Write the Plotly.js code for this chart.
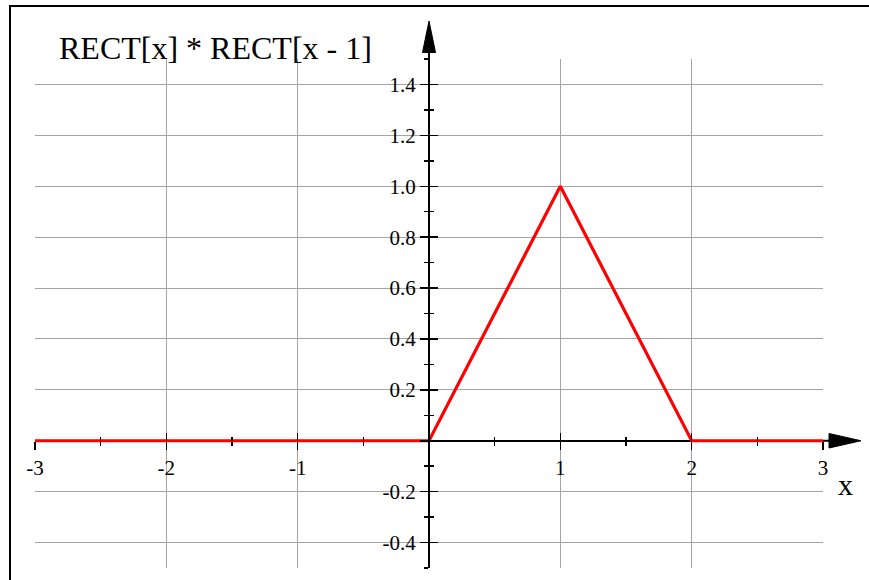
<!DOCTYPE html>
<html>
<head>
<meta charset="utf-8">
<script src="https://cdn.plot.ly/plotly-3.0.1.min.js"></script>
<style>
  html, body { margin: 0; padding: 0; background: #ffffff; }
  #plot { width: 869px; height: 580px; }
</style>
</head>
<body>
<div id="plot"></div>
<script>
// RECT[x] * RECT[x - 1]: triangle function on [0, 2]
const xValues = [-3, 0, 1, 2, 3];
const yValues = [0, 0, 1, 0, 0];

const xTickVals = [-3, -2, -1, 0, 1, 2, 3];
const xTickText = ['-3', '-2', '-1', '', '1', '2', '3'];
const xMinorVals = [-2.5, -1.5, -0.5, 0.5, 1.5, 2.5];

const yTickVals = [-0.4, -0.2, 0, 0.2, 0.4, 0.6, 0.8, 1.0, 1.2, 1.4];
const yTickText = ['-0.4', '-0.2', '', '0.2', '0.4', '0.6', '0.8', '1.0', '1.2', '1.4'];
const yMinorVals = [-0.5, -0.3, -0.1, 0.1, 0.3, 0.5, 0.7, 0.9, 1.1, 1.3, 1.5];

const W = 869, H = 580;
const M = { l: 35, r: 46, t: 59, b: 12 };
const PW = W - M.l - M.r, PH = H - M.t - M.b;
// pixel -> paper coordinates
const px = v => (v - M.l) / PW;
const py = v => 1 - (v - M.t) / PH;

const serif = 'Liberation Serif, Times New Roman, serif';
const gridColor = '#a4a4a4';

const tickFont = { family: serif, size: 21, color: '#000000' };

const axisCommon = {
  showline: true, linecolor: '#000000', linewidth: 2,
  zeroline: false, showgrid: true, gridcolor: gridColor, gridwidth: 1,
  ticks: 'outside', ticklen: 8, tickwidth: 1.5, tickcolor: '#000000',
  tickmode: 'array', tickfont: tickFont, fixedrange: true
};

const data = [
  {
    x: xValues, y: yValues,
    type: 'scatter', mode: 'lines',
    line: { color: '#ff0000', width: 3.2 },
    hoverinfo: 'skip', showlegend: false
  },
  // empty trace that registers the overlay axes (inward half of each tick)
  {
    x: [], y: [], xaxis: 'x2', yaxis: 'y2',
    type: 'scatter', mode: 'lines',
    hoverinfo: 'skip', showlegend: false
  }
];

const layout = {
  width: W, height: H,
  margin: M,
  paper_bgcolor: '#ffffff', plot_bgcolor: '#ffffff',
  showlegend: false,
  title: {
    text: 'RECT[x] * RECT[x - 1]',
    font: { family: serif, size: 32, color: '#000000' },
    xref: 'container', yref: 'container',
    x: 59 / W, xanchor: 'left',
    y: 1 - 48 / H, yanchor: 'middle'
  },
  xaxis: Object.assign({}, axisCommon, {
    range: [-3, 3], anchor: 'free', position: 0.25,
    tickvals: xTickVals, ticktext: xTickText,
    layer: 'below traces',
    minor: { tickmode: 'array', tickvals: xMinorVals, ticks: 'outside', ticklen: 4, tickwidth: 1.5, tickcolor: '#000000', showgrid: false }
  }),
  yaxis: Object.assign({}, axisCommon, {
    range: [-0.5, 1.5], anchor: 'free', position: 0.5,
    tickvals: yTickVals, ticktext: yTickText,
    minor: { tickmode: 'array', tickvals: yMinorVals, ticks: 'outside', ticklen: 4, tickwidth: 1.5, tickcolor: '#000000', showgrid: false }
  }),
  xaxis2: {
    overlaying: 'x', range: [-3, 3], anchor: 'free', position: 0.25,
    showline: false, showgrid: false, zeroline: false, showticklabels: false,
    tickmode: 'array', tickvals: xTickVals,
    ticks: 'inside', ticklen: 8, tickwidth: 1.5, tickcolor: '#000000',
    minor: { tickmode: 'array', tickvals: xMinorVals, ticks: 'inside', ticklen: 4, tickwidth: 1.5, tickcolor: '#000000', showgrid: false },
    fixedrange: true
  },
  yaxis2: {
    overlaying: 'y', range: [-0.5, 1.5], anchor: 'free', position: 0.5,
    showline: false, showgrid: false, zeroline: false, showticklabels: false,
    tickmode: 'array', tickvals: yTickVals,
    ticks: 'inside', ticklen: 8, tickwidth: 1.5, tickcolor: '#000000',
    minor: { tickmode: 'array', tickvals: yMinorVals, ticks: 'inside', ticklen: 4, tickwidth: 1.5, tickcolor: '#000000', showgrid: false },
    fixedrange: true
  },
  annotations: [{
    text: 'x', xref: 'paper', yref: 'paper',
    x: px(845), y: py(484), xanchor: 'center', yanchor: 'middle',
    showarrow: false,
    font: { family: serif, size: 30, color: '#000000' }
  }],
  shapes: [
    // frame
    { type: 'line', xref: 'paper', yref: 'paper', x0: px(10), x1: px(870), y0: py(6), y1: py(6), line: { color: '#000000', width: 2 } },
    { type: 'line', xref: 'paper', yref: 'paper', x0: px(10), x1: px(10), y0: py(5), y1: py(581), line: { color: '#000000', width: 2 } },
    // x axis extension and arrowhead
    { type: 'line', xref: 'paper', yref: 'paper', x0: 1, x1: px(832), y0: 0.25, y1: 0.25, line: { color: '#000000', width: 2 } },
    { type: 'path', xref: 'paper', yref: 'paper',
      path: `M ${px(829)} ${py(433.5)} L ${px(861)} ${py(440.75)} L ${px(829)} ${py(448)} Z`,
      fillcolor: '#000000', line: { color: '#000000', width: 1 } },
    // y axis extension and arrowhead
    { type: 'line', xref: 'paper', yref: 'paper', x0: 0.5, x1: 0.5, y0: 1, y1: py(50), line: { color: '#000000', width: 2 } },
    { type: 'path', xref: 'paper', yref: 'paper',
      path: `M ${px(422.5)} ${py(52.5)} L ${px(429)} ${py(21)} L ${px(435.5)} ${py(52.5)} Z`,
      fillcolor: '#000000', line: { color: '#000000', width: 1 } }
  ]
};

Plotly.newPlot('plot', data, layout, { displayModeBar: false, staticPlot: true });
</script>
</body>
</html>
